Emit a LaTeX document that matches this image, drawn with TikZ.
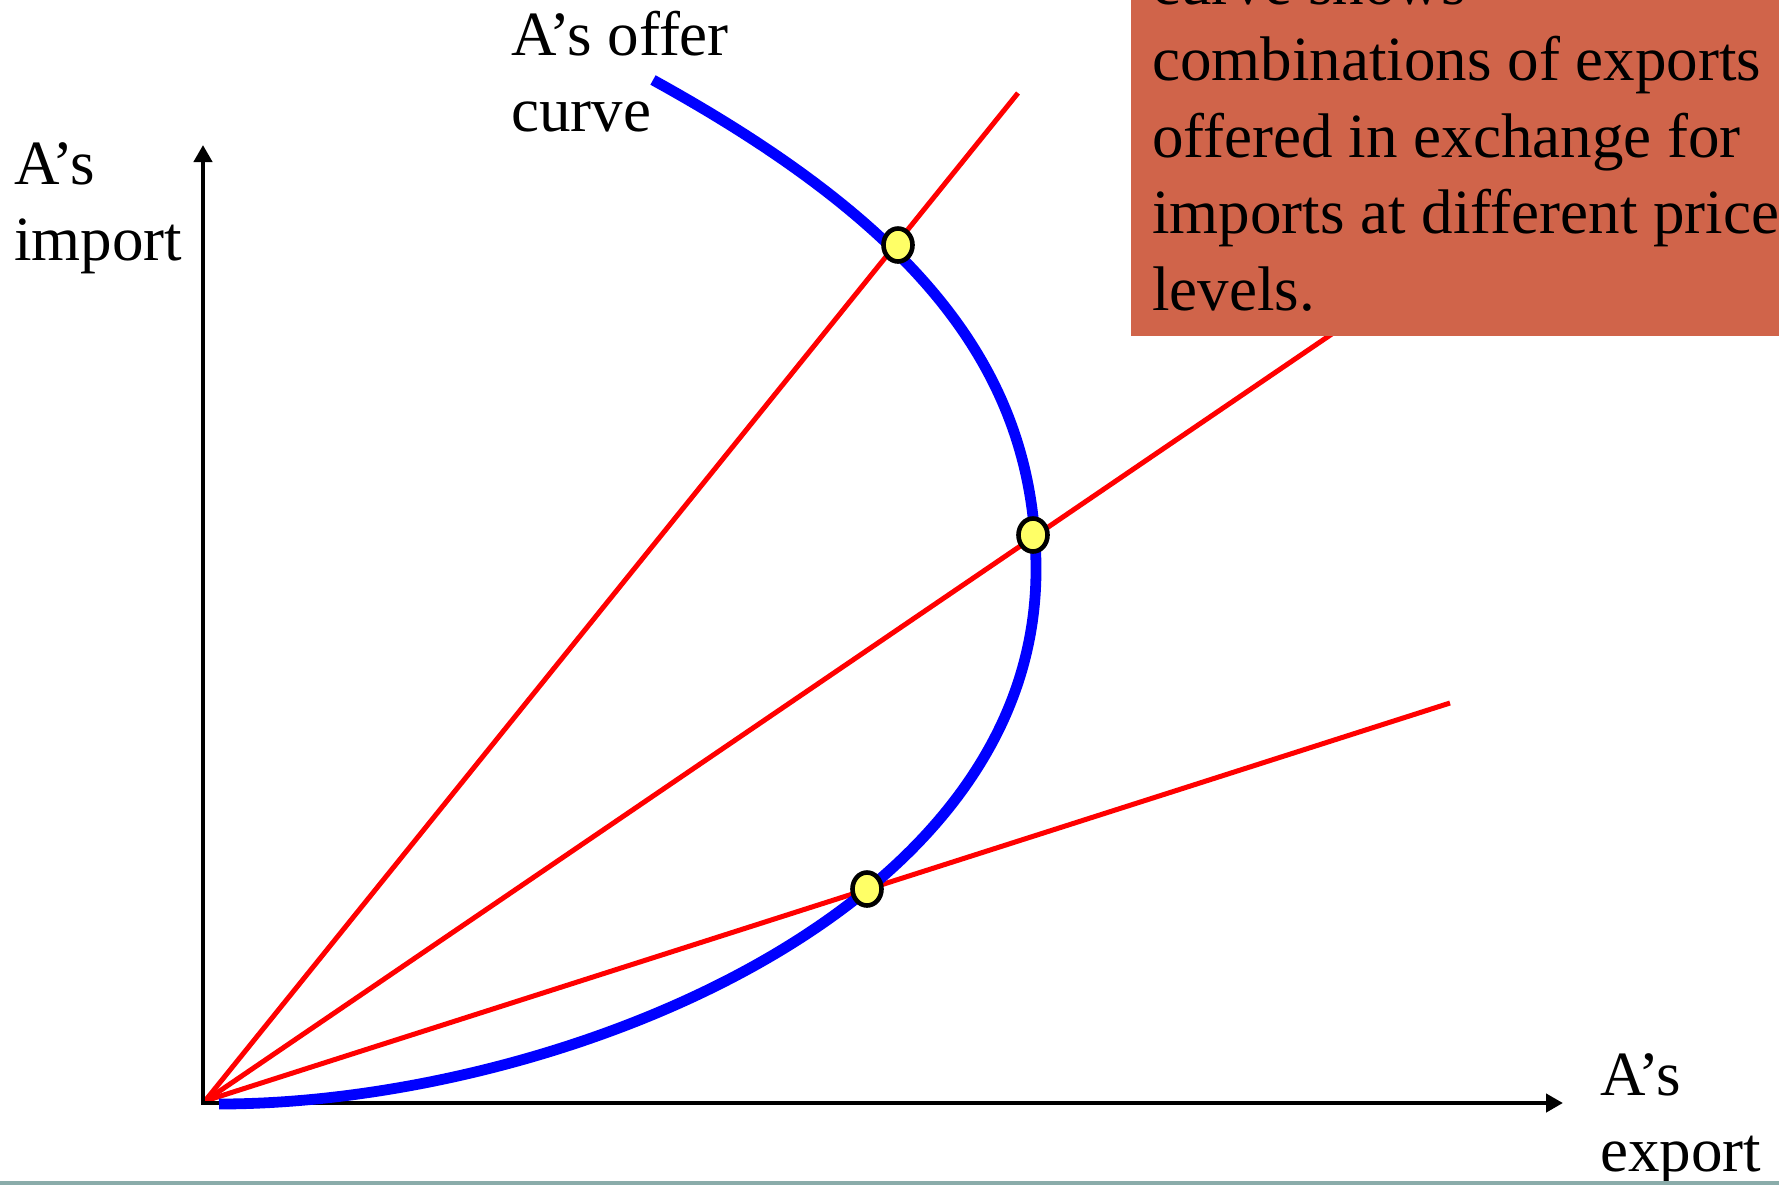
\documentclass[tikz,border=0pt]{standalone}
\usepackage{fontspec}
\setmainfont{Liberation Serif}
\usetikzlibrary{arrows.meta,shapes.geometric}
\definecolor{boxfill}{RGB}{208,100,74}
\definecolor{bandcol}{RGB}{138,172,170}
\definecolor{dotfill}{RGB}{255,255,102}
\begin{document}
\begin{tikzpicture}[x=0.5pt,y=-0.5pt,
  lbl/.style={inner sep=0pt, anchor=base west, font=\fontsize{31.5}{38.3}\selectfont},
  axis/.style={line width=2.3pt, draw=black, {Triangle[length=8.5pt,width=9pt]}-{Triangle[length=8.5pt,width=9pt]}},
  ray/.style={line width=2.5pt, draw=red},
  offer/.style={line width=5.4pt, draw=blue},
  dot/.style={ellipse, draw=black, fill=dotfill, line width=2.3pt, inner sep=0pt, minimum width=14.5pt, minimum height=16.5pt}]
\useasboundingbox (0,0) rectangle (1779,1185);
\clip (0,0) rectangle (1779,1185);
% coordinates
\coordinate (O) at (205,1101);
\coordinate (Ytip) at (203,145);
\coordinate (Xtip) at (1563,1103);
\coordinate (R1) at (1018,93);
\coordinate (R2) at (1345,325);
\coordinate (R3) at (1450,703);
\coordinate (Ctop) at (653,80);
\coordinate (Cright) at (1036,570);
\coordinate (Cend) at (219,1104);
% rays
\draw[ray] (O) -- (R1);
\draw[ray] (O) -- (R2);
\draw[ray] (O) -- (R3);
% axes
\draw[axis] (Ytip) |- (Xtip);
% offer curve
\draw[offer] (Ctop) .. controls (916,225) and (1036,370) .. (Cright)
  .. controls (1036,920) and (545,1104) .. (Cend);
% equilibrium dots
\node[dot] (E1) at (898,245) {};
\node[dot] (E2) at (1033,535) {};
\node[dot] (E3) at (867,889) {};
% labels
\node[lbl] (offerlbl) at (511,55) {\begin{tabular}[t]{@{}l@{}}A’s offer\\curve\end{tabular}};
\node[lbl] (ylbl) at (14,184) {\begin{tabular}[t]{@{}l@{}}A’s\\import\end{tabular}};
\node[lbl] (xlbl) at (1600,1095) {\begin{tabular}[t]{@{}l@{}}A’s\\export\end{tabular}};
% note box
\fill[boxfill] (1131,336) rectangle (1800,-20);
\node[lbl] (note) at (1152,4) {\begin{tabular}[t]{@{}l@{}}curve shows\\combinations of exports\\offered in exchange for\\imports at different prices\\levels.\end{tabular}};
% bottom band
\fill[bandcol] (0,1181) rectangle (1779,1185);
\end{tikzpicture}
\end{document}
